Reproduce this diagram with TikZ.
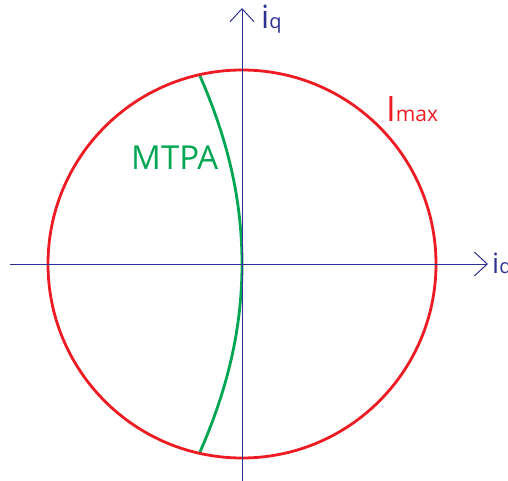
\documentclass[tikz,border=0pt]{standalone}
\usepackage{fontspec}
\setmainfont{Open Sans}
\usetikzlibrary{arrows.meta}
\definecolor{axblue}{RGB}{46,49,146}
\definecolor{cred}{RGB}{237,28,36}
\definecolor{cgreen}{RGB}{0,166,81}
\tikzset{
  axis/.style={draw=axblue,line width=1pt,-{Straight Barb[length=13pt,width=24pt,line width=1pt]}},
  lbl/.style={inner sep=0pt,anchor=base west},
}
\begin{document}
\begin{tikzpicture}[x=1pt,y=-1pt]
\useasboundingbox (0,0) rectangle (508,481);
\coordinate (O) at (242,264);
\coordinate (xl) at (10,264);
\coordinate (xr) at (488,264);
\coordinate (yb) at (242,481);
\coordinate (yt) at (242,8);
\coordinate (mt) at (200,76);
\coordinate (mb) at (200,452);
% MTPA curve
\draw[cgreen,line width=2.8pt] (mt) .. controls (228,140) and (242,200) .. (O) .. controls (242,328) and (228,388) .. (mb);
% circle
\draw[cred,line width=2.8pt] (O) circle[radius=194];
% axes
\draw[axis] (xl) -- (xr);
\draw[axis] (yb) -- (yt);
% labels
\node[lbl,text=axblue] (iq) at (261,29) {\fontsize{32}{32}\selectfont i\fontsize{20}{20}\selectfont q};
\node[lbl,text=axblue] (id) at (492,273) {\fontsize{28}{28}\selectfont i\fontsize{20}{20}\selectfont d};
\node[lbl,text=cred] (imax) at (386,122) {\fontsize{35}{35}\selectfont I\fontsize{21}{21}\selectfont max};
\node[lbl,text=cgreen] (mtpa) at (131,170) {\fontsize{33}{33}\selectfont MTPA};
\end{tikzpicture}
\end{document}
